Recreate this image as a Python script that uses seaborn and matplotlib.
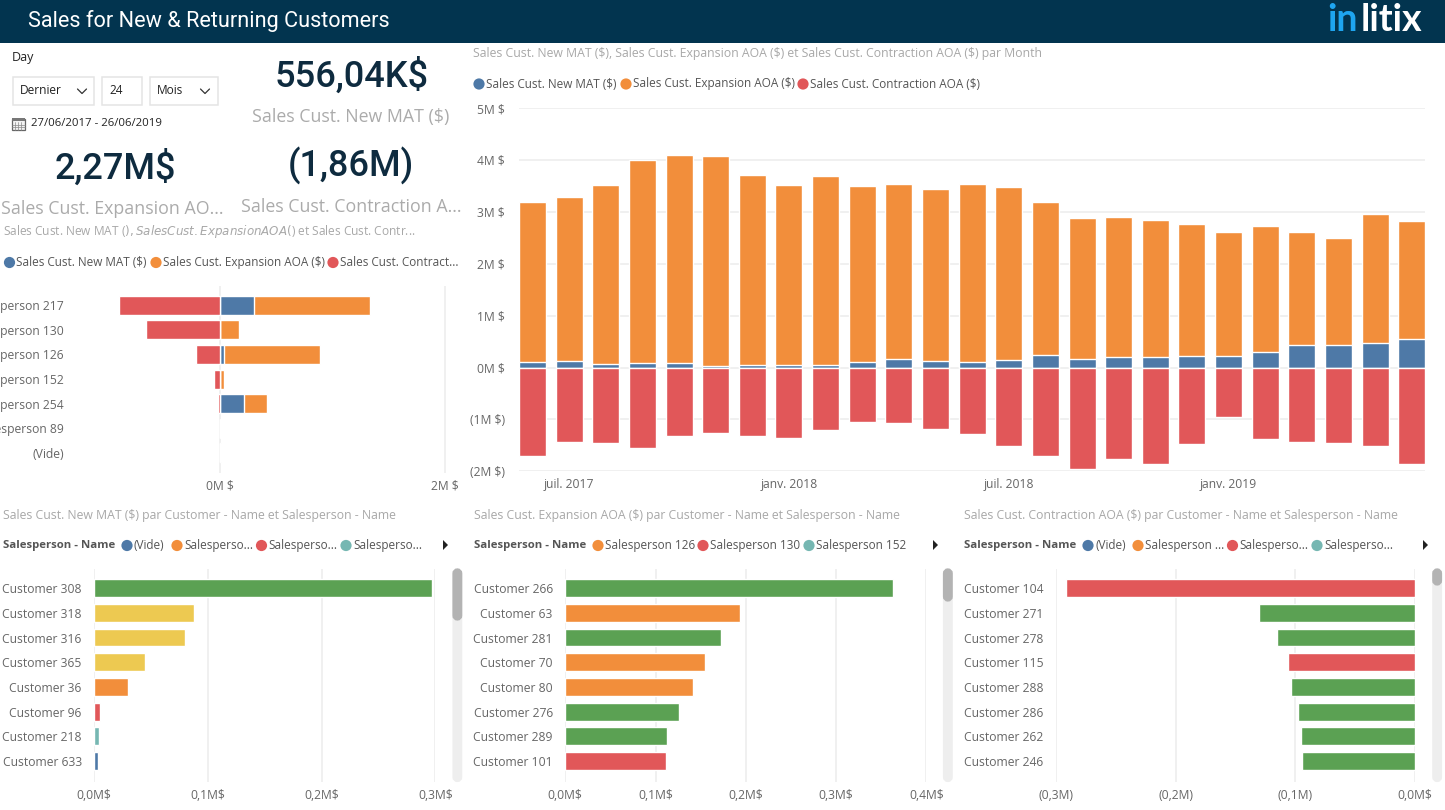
import matplotlib
matplotlib.use("Agg")
import matplotlib.pyplot as plt
from matplotlib.patches import Rectangle, FancyBboxPatch, Circle, Polygon
import pandas as pd
import seaborn as sns

# ---------- data ----------
months = ["juin 2017","juil. 2017","août 2017","sept. 2017","oct. 2017","nov. 2017","déc. 2017",
          "janv. 2018","févr. 2018","mars 2018","avr. 2018","mai 2018","juin 2018","juil. 2018",
          "août 2018","sept. 2018","oct. 2018","nov. 2018","déc. 2018","janv. 2019","févr. 2019",
          "mars 2019","avr. 2019","mai 2019","juin 2019"]
month_new = [.11,.12,.07,.096,.096,.032,.045,.045,.045,.11,.16,.12,.11,.14,.25,.173,.205,.205,.218,.218,.30,.436,.43,.468,.55]
month_exp = [3.07,3.16,3.445,3.904,4.004,4.043,3.67,3.47,3.65,3.38,3.375,3.31,3.425,3.34,2.93,2.707,2.695,2.645,2.542,2.402,2.43,2.184,2.07,2.482,2.28]
month_con = [-1.705,-1.43,-1.45,-1.55,-1.314,-1.263,-1.32,-1.353,-1.21,-1.05,-1.064,-1.19,-1.28,-1.513,-1.705,-1.955,-1.77,-1.86,-1.474,-.955,-1.372,-1.436,-1.455,-1.513,-1.865]

people = ["Salesperson 217","Salesperson 130","Salesperson 126","Salesperson 152","Salesperson 254","Salesperson 89","(Vide)"]
people_new = [.296,0,.033,0,.213,0,.002]
people_exp = [1.031,.166,.853,.033,.202,0,0]
people_con = [-.898,-.664,-.219,-.053,-.02,-.003,0]

new_customers = ["Customer 308","Customer 318","Customer 316","Customer 365","Customer 36","Customer 96","Customer 218","Customer 633"]
new_values = [.297,.0873,.080,.0448,.030,.005,.0038,.003]
new_owner = ["Salesperson 217","Salesperson 254","Salesperson 254","Salesperson 254","Salesperson 126","Salesperson 130","Salesperson 152","(Vide)"]

exp_customers = ["Customer 266","Customer 63","Customer 281","Customer 70","Customer 80","Customer 276","Customer 289","Customer 101"]
exp_values = [.3634,.1935,.172,.155,.142,.1256,.113,.112]
exp_owner = ["Salesperson 217","Salesperson 126","Salesperson 217","Salesperson 126","Salesperson 126","Salesperson 217","Salesperson 217","Salesperson 130"]

con_customers = ["Customer 104","Customer 271","Customer 278","Customer 115","Customer 288","Customer 286","Customer 262","Customer 246"]
con_values = [-.291,-.1306,-.115,-.1058,-.104,-.0975,-.095,-.0944]
con_owner = ["Salesperson 130","Salesperson 217","Salesperson 217","Salesperson 130","Salesperson 217","Salesperson 217","Salesperson 217","Salesperson 217"]

BLUE, ORANGE, RED, TEAL, GREEN, YELLOW = "#4E79A7", "#F28E3B", "#E15759", "#76B7B2", "#5BA153", "#EDC951"
owner_palette = {"(Vide)":BLUE,"Salesperson 126":ORANGE,"Salesperson 130":RED,"Salesperson 152":TEAL,
                 "Salesperson 217":GREEN,"Salesperson 254":YELLOW}
NAVY, GRID, AXIS, SUB, KPI = "#02344F", "#ededed", "#666666", "#a8a8a8", "#0E2B3F"
UI = "Open Sans"

sns.set_theme(style="white")
plt.rcParams["font.family"] = [UI, "DejaVu Sans"]
W, H = 1445, 810
fig = plt.figure(figsize=(W/100, H/100), dpi=100, facecolor="white")

def px_axes(x0, y0, x1, y1, z=2):
    a = fig.add_axes([x0/W, 1-y1/H, (x1-x0)/W, (y1-y0)/H], zorder=z)
    a.patch.set_alpha(0)
    return a

def style(a, axis):
    sns.despine(ax=a, left=True, bottom=True)
    a.grid(True, axis=axis, color=GRID, lw=1.2)
    a.grid(False, axis="y" if axis == "x" else "x")
    a.set_axisbelow(True)
    a.set_xlabel(""); a.set_ylabel("")
    a.tick_params(length=0, labelsize=8.7, labelcolor=AXIS)

# overlay in pixel coordinates
ov = px_axes(0, 0, W, H, z=1)
ov.set_xlim(0, W); ov.set_ylim(H, 0); ov.axis("off")

def T(x, y, s, size=8.7, color=AXIS, ha="left", **k):
    return ov.text(x, y, s, fontsize=size, color=color, ha=ha, va="center", **k)

def dot(x, y, c):
    ov.add_patch(Circle((x, y), 5.6, fc=c, ec="none"))

def legend(y, items, bold=None):
    if bold:
        T(bold[0], y, bold[1], fontweight="bold", size=8.2, color="#555555")
    for x, c, s in items:
        dot(x, y, c)
        T(x+7, y, s, size=8.5, color="#555555")

def scrollbar(x, thumb_end):
    ov.add_patch(FancyBboxPatch((x+1.5, 570.5), 5.7, 209.5, boxstyle="round,pad=0,rounding_size=3", fc="#eeeeee", ec="#eeeeee", lw=3))
    ov.add_patch(FancyBboxPatch((x+1.5, 570.5), 5.7, thumb_end-572, boxstyle="round,pad=0,rounding_size=3", fc="#b3b3b3", ec="#b3b3b3", lw=3))

def arrow(x, y=545):
    ov.add_patch(Polygon([(x, y-5), (x+5, y), (x, y+5)], fc="#222222", ec="none"))

# header
ov.add_patch(Rectangle((0, 0), W, 43, fc=NAVY, ec="none"))
T(28, 21, "Sales for New & Returning Customers", size=15.6, color="white", family="Roboto")
T(1327, 20, "in", size=27, color="#1EA5F0", family="Lato", fontweight="bold")
T(1361, 20, "litix", size=27, color="white", family="Lato", fontweight="bold")

# slicer
T(12, 58, "Day", size=9, color="#222222")
for x0, x1 in [(12.5, 94), (101.5, 141.5), (149.5, 217.5)]:
    ov.add_patch(Rectangle((x0, 76.5), x1-x0, 28, fc="white", ec="#e4e4e4", lw=1.1))
T(20, 91, "Dernier", size=8.6, color="#222222")
T(109, 91, "24", size=8.6, color="#222222")
T(157, 91, "Mois", size=8.6, color="#222222")
for cx in (82, 205):
    ov.plot([cx-4.5, cx, cx+4.5], [89, 93.5, 89], color="#333333", lw=0.9)
ov.add_patch(Rectangle((12, 119), 12.5, 11, fc="#f2f2f2", ec="#666666", lw=0.9))
ov.add_patch(Rectangle((12, 118), 12.5, 3, fc="#777777", ec="none"))
for gx in (15, 18, 21):
    ov.plot([gx, gx], [122, 129.5], color="#888888", lw=0.5)
for gy in (124.5, 127):
    ov.plot([12, 24.5], [gy, gy], color="#888888", lw=0.5)
T(31, 123, "27/06/2017 - 26/06/2019", size=8.2, color="#222222")

# KPI cards
for cx, cy, s in [(352, 76, "556,04K$"), (115, 168, "2,27M$"), (351, 166, "(1,86M)")]:
    ov.text(cx, cy, s, fontsize=26, color=KPI, ha="center", va="center", family="Roboto", fontweight="medium")
for cx, cy, s, clip in [(351, 117, "Sales Cust. New MAT ($)", 124.5), (112, 209, "Sales Cust. Expansion AO...", 216.5),
                        (351, 207.5, "Sales Cust. Contraction A...", 218)]:
    t = T(cx, cy, s, size=12.8, color="#ababab", ha="center")
    t.set_clip_path(Rectangle((0, 0), W, clip, transform=ov.transData))

# titles and legends
T(3, 232, "Sales Cust. New MAT ($), Sales Cust. Expansion AOA ($) et Sales Cust. Contr...", size=8.6, color=SUB)
legend(262.5, [(9.5, BLUE, "Sales Cust. New MAT ($)"), (156, ORANGE, "Sales Cust. Expansion AOA ($)"), (333, RED, "Sales Cust. Contract...")])
T(473, 53, "Sales Cust. New MAT ($), Sales Cust. Expansion AOA ($) et Sales Cust. Contraction AOA ($) par Month", size=8.8, color=SUB)
legend(84, [(479, BLUE, "Sales Cust. New MAT ($)"), (626, ORANGE, "Sales Cust. Expansion AOA ($)"), (803, RED, "Sales Cust. Contraction AOA ($)")])
T(3, 515, "Sales Cust. New MAT ($) par Customer - Name et Salesperson - Name", size=8.8, color=SUB)
T(474, 515, "Sales Cust. Expansion AOA ($) par Customer - Name et Salesperson - Name", size=8.8, color=SUB)
T(964, 515, "Sales Cust. Contraction AOA ($) par Customer - Name et Salesperson - Name", size=8.8, color=SUB)
legend(545.5, [(127, BLUE, "(Vide)"), (177, ORANGE, "Salesperso..."), (261.5, RED, "Salesperso..."), (346, TEAL, "Salesperso...")], (3, "Salesperson - Name"))
legend(545.5, [(598, ORANGE, "Salesperson 126"), (703, RED, "Salesperson 130"), (809, TEAL, "Salesperson 152")], (474, "Salesperson - Name"))
legend(545.5, [(1088, BLUE, "(Vide)"), (1138, ORANGE, "Salesperson ..."), (1232.5, RED, "Salesperso..."), (1317, TEAL, "Salesperso...")], (964, "Salesperson - Name"))
for x in (443, 933, 1423):
    arrow(x)
for x, e in ((453, 620), (943.5, 601), (1432.8, 585)):
    scrollbar(x, e)

# main stacked columns
ax = px_axes(519, 108, 1425, 471.3)
month_df = pd.DataFrame({"month": months, "new": month_new, "exp": month_exp, "con": month_con})
month_df["top"] = month_df["new"] + month_df["exp"]
for col, c in (("top", ORANGE), ("new", BLUE), ("con", RED)):
    sns.barplot(data=month_df, x="month", y=col, order=months, color=c, saturation=1, width=.737, ax=ax)
ax.set_xlim(-.368, 24.36); ax.set_ylim(-2, 5)
ax.set_yticks([-2, -1, 0, 1, 2, 3, 4, 5], ["(2M $)", "(1M $)", "0M $", "1M $", "2M $", "3M $", "4M $", "5M $"])
ax.set_xticks([1, 7, 13, 19], [months[1], months[7], months[13], months[19]])
style(ax, "y")
ax.tick_params(axis="y", pad=10); ax.tick_params(axis="x", pad=5)

# salesperson stacked bars
ax = px_axes(100, 286, 446, 473)
people_df = pd.DataFrame({"who": people, "new": people_new, "exp": people_exp, "con": people_con})
people_df["top"] = people_df["new"] + people_df["exp"]
for col, c in (("top", ORANGE), ("new", BLUE), ("con", RED)):
    sns.barplot(data=people_df, y="who", x=col, order=people, color=c, saturation=1, width=.772, orient="y", ax=ax)
ax.set_xlim(-1.0695, 2.0062); ax.set_ylim(6.82, -.785)
ax.set_xticks([0, 2], ["0M $", "2M $"])
style(ax, "x")
ax.tick_params(axis="y", pad=26); ax.tick_params(axis="x", pad=5)

# customer bars
def customer_chart(box, names, values, owner, xlim, ticks, labels, pad):
    a = px_axes(*box)
    d = pd.DataFrame({"name": names, "value": values, "owner": owner})
    sns.barplot(data=d, y="name", x="value", hue="owner", order=names, palette=owner_palette, dodge=False,
                saturation=1, width=.727, orient="y", legend=False, ax=a)
    a.set_xlim(*xlim); a.set_ylim(7.83, -.77)
    a.set_xticks(ticks, labels)
    style(a, "x")
    a.tick_params(axis="y", pad=pad); a.tick_params(axis="x", pad=5)

customer_chart((94.3, 569, 435.3, 781.7), new_customers, new_values, new_owner, (0, .3),
               [0, .1, .2, .3], ["0,0M$", "0,1M$", "0,2M$", "0,3M$"], 9)
customer_chart((565.3, 569, 926.3, 781.7), exp_customers, exp_values, exp_owner, (0, .4),
               [0, .1, .2, .3, .4], ["0,0M$", "0,1M$", "0,2M$", "0,3M$", "0,4M$"], 9)
customer_chart((1055.7, 569, 1415.3, 781.7), con_customers, con_values, con_owner, (-.3, 0),
               [-.3, -.2, -.1, 0], ["(0,3M)", "(0,2M)", "(0,1M)", "0,0M$"], 9)

fig.savefig("out.png", dpi=100, facecolor="white")
